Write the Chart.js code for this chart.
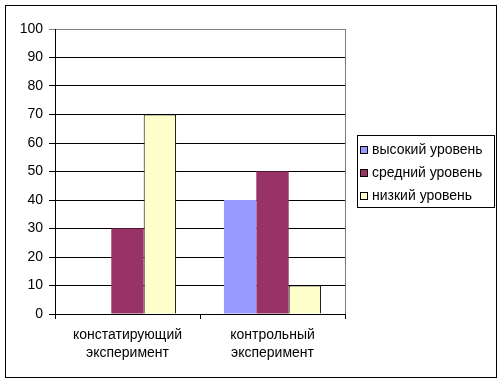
<!DOCTYPE html>
<html>
<head>
<meta charset="utf-8">
<script src="https://cdn.jsdelivr.net/npm/chart.js@4.4.1/dist/chart.umd.min.js"></script>
<style>
  html, body { margin: 0; padding: 0; background: #fff; }
  #wrap { position: relative; width: 504px; height: 384px; }
</style>
</head>
<body>
<div id="wrap"><canvas id="chart"></canvas></div>
<script>
// categories and series
const categories = [['констатирующий', 'эксперимент'], ['контрольный', 'эксперимент']];
const seriesNames = ['высокий уровень', 'средний уровень', 'низкий уровень'];
const highLevel = [0, 40];
const midLevel = [30, 50];
const lowLevel = [70, 10];
const seriesColors = ['#9999FF', '#993366', '#FFFFCC'];
const yTicks = [0, 10, 20, 30, 40, 50, 60, 70, 80, 90, 100];

const FONT = 'Arial, "Liberation Sans", sans-serif';

// frame around the whole chart + right border of plot area
const framePlugin = {
    id: 'frame',
    afterDraw(chart) {
        const ctx = chart.ctx;
        const a = chart.chartArea;
        ctx.save();
        ctx.strokeStyle = '#808080';
        ctx.lineWidth = 1;
        ctx.beginPath();
        ctx.moveTo(Math.round(a.right) + 0.5, a.top);
        ctx.lineTo(Math.round(a.right) + 0.5, a.bottom);
        ctx.stroke();
        ctx.strokeStyle = '#000';
        ctx.strokeRect(5.5, 5.5, 491, 372);
        ctx.restore();
    }
};

// boxed legend on the right, built from the datasets
const boxLegend = {
    id: 'boxLegend',
    afterDraw(chart) {
        const ctx = chart.ctx;
        const ds = chart.data.datasets;
        const x = 357, y = 135, w = 137, h = 72;
        ctx.save();
        ctx.fillStyle = '#fff';
        ctx.fillRect(x, y, w, h);
        ctx.strokeStyle = '#000';
        ctx.lineWidth = 1;
        ctx.strokeRect(x + 0.5, y + 0.5, w, h);
        ctx.font = '14px ' + FONT;
        ctx.textBaseline = 'middle';
        for (let i = 0; i < ds.length; i++) {
            const cy = y + 15 + i * 23;
            ctx.fillStyle = ds[i].backgroundColor;
            ctx.fillRect(360, cy - 4, 8, 8);
            ctx.strokeStyle = '#000';
            ctx.strokeRect(360.5, cy - 3.5, 7, 7);
            ctx.fillStyle = '#000';
            ctx.fillText(ds[i].label, 372, cy);
        }
        ctx.restore();
    }
};

const datasets = [highLevel, midLevel, lowLevel].map(function (vals, i) {
    return {
        label: seriesNames[i],
        data: vals,
        backgroundColor: seriesColors[i],
        borderColor: i === 2 ? '#000' : seriesColors[i],
        borderWidth: i === 2 ? 1 : 0,
        categoryPercentage: 0.67,
        barPercentage: 1
    };
});

new Chart(document.getElementById('chart'), {
    type: 'bar',
    data: { labels: categories, datasets: datasets },
    options: {
        responsive: true,
        maintainAspectRatio: false,
        animation: false,
        layout: { padding: { left: 10, top: 29, right: 159, bottom: 0 } },
        plugins: {
            legend: { display: false },
            tooltip: { enabled: false }
        },
        scales: {
            x: {
                afterFit: function (s) { s.height = 70; },
                grid: {
                    offset: true,
                    drawOnChartArea: false,
                    color: '#000',
                    tickLength: 5
                },
                border: { color: '#000' },
                ticks: {
                    color: '#000',
                    font: { family: FONT, size: 14, lineHeight: 1.3 },
                    padding: 7,
                    maxRotation: 0
                }
            },
            y: {
                min: 0,
                max: 100,
                afterFit: function (s) { s.width = 45; },
                afterBuildTicks: function (s) {
                    s.ticks = yTicks.map(function (v) { return { value: v }; });
                },
                grid: {
                    color: function (c) { return c.tick && c.tick.value === 100 ? '#808080' : '#000'; },
                    tickLength: 6
                },
                border: { color: '#000' },
                ticks: {
                    color: '#000',
                    font: { family: FONT, size: 14 },
                    padding: 6
                }
            }
        }
    },
    plugins: [framePlugin, boxLegend]
});
</script>
</body>
</html>
